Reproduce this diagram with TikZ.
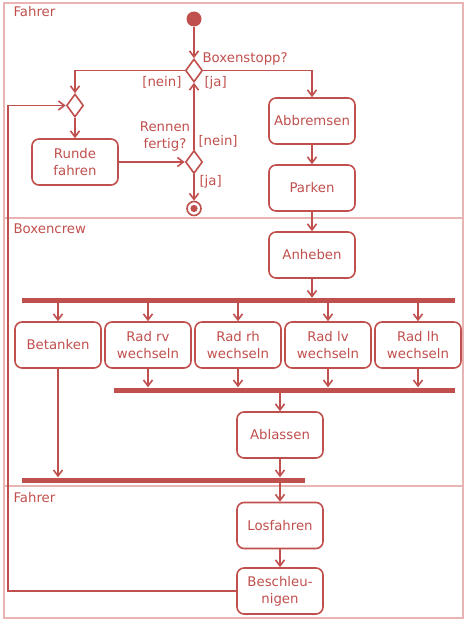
\documentclass[tikz,border=0pt]{standalone}
\usepackage{fontspec}
\setmainfont{DejaVu Sans}
\usetikzlibrary{arrows.meta,shapes.geometric}
\definecolor{uml}{HTML}{C0504D}
\definecolor{lane}{HTML}{E8B4B4}
\begin{document}
\begin{tikzpicture}[x=1pt,y=-1pt,
  every node/.style={text=uml, font=\fontsize{13.3}{17}\selectfont},
  act/.style={draw=uml, line width=1.6pt, fill=white, rounded corners=7pt,
    minimum width=86pt, minimum height=46pt, align=center, inner sep=0pt},
  dec/.style={draw=uml, line width=1.6pt, fill=white, diamond,
    minimum width=17pt, minimum height=23pt, inner sep=0pt},
  bar/.style={fill=uml, rectangle, minimum height=5pt, inner sep=0pt},
  flow/.style={draw=uml, line width=1.6pt,
    -{Straight Barb[length=6pt,width=9pt,line width=1.6pt]}},
  lanelabel/.style={anchor=base west}]
\useasboundingbox (0,0) rectangle (466,623);
% swimlanes
\draw[lane, line width=1.6pt] (4,3) rectangle (463,618);
\draw[lane, line width=1.6pt] (4,218) -- (463,218);
\draw[lane, line width=1.6pt] (4,486) -- (463,486);
\node[lanelabel] (l1) at (10,17) {Fahrer};
\node[lanelabel] (l2) at (10,233) {Boxencrew};
\node[lanelabel] (l3) at (10,502) {Fahrer};
% nodes
\node[circle, fill=uml, minimum size=15pt, inner sep=0pt] (start) at (194,19) {};
\node[dec] (d1) at (194,70.5) {};
\node[dec] (m1) at (75,105.5) {};
\node[act] (runde) at (75,162) {Runde\\fahren};
\node[dec] (d2) at (194,162) {};
\node[circle, draw=uml, line width=1.6pt, fill=white, minimum size=14pt, inner sep=0pt,
  path picture={\fill[uml] (path picture bounding box.center) circle (3.6pt);}] (fin) at (194,208.5) {};
\node[act] (abb) at (312,121) {Abbremsen};
\node[act] (park) at (312,188) {Parken};
\node[act] (anh) at (312,255) {Anheben};
\node[bar, minimum width=433pt] (fork) at (238.5,300.5) {};
\node[act] (bet) at (58,345) {Betanken};
\node[act] (rv) at (148,345) {Rad rv\\wechseln};
\node[act] (rh) at (238,345) {Rad rh\\wechseln};
\node[act] (lv) at (328,345) {Rad lv\\wechseln};
\node[act] (lh) at (418,345) {Rad lh\\wechseln};
\node[bar, minimum width=341pt] (join1) at (284.5,390) {};
\node[act] (abl) at (280,435) {Ablassen};
\node[bar, minimum width=283pt] (join2) at (163.5,480) {};
\node[act] (los) at (280,525.5) {Losfahren};
\node[act] (bes) at (280,591) {Beschleu-\\nigen};
% labels
\node[anchor=base west] (q1) at (199,63) {Boxenstopp?};
\node[anchor=base east] (g1) at (185,87) {[nein]};
\node[anchor=base west] (g2) at (201,87) {[ja]};
\node[align=center, anchor=south] (q2) at (165,155) {Rennen\\fertig?};
\node[anchor=base west] (g3) at (195,145) {[nein]};
\node[anchor=base west] (g4) at (196,185) {[ja]};
% connectors
\draw[flow] (start) -- (d1);
\draw[flow] (d1.west) -| (m1.north);
\draw[flow] (d1.east) -| (abb.north);
\draw[flow] (m1) -- (runde);
\draw[flow] (runde) -- (d2);
\draw[flow] (d2.north) -- (d1.south);
\draw[flow] (d2.south) -- (fin);
\draw[flow] (abb) -- (park);
\draw[flow] (park) -- (anh);
\draw[flow] (anh.south) -- (anh.south |- fork.north);
\foreach \n in {bet,rv,rh,lv,lh} {\draw[flow] (fork.south -| \n) -- (\n.north);}
\foreach \n in {rv,rh,lv,lh} {\draw[flow] (\n.south) -- (\n.south |- join1.north);}
\draw[flow] (join1.south -| abl) -- (abl.north);
\draw[flow] (bet.south) -- (bet.south |- join2.north);
\draw[flow] (abl.south) -- (abl.south |- join2.north);
\draw[flow] (join2.south -| los) -- (los.north);
\draw[flow] (los) -- (bes);
\coordinate (c1) at (8,591);
\draw[flow] (bes.west) -- (c1) |- (m1.west);
\end{tikzpicture}
\end{document}
